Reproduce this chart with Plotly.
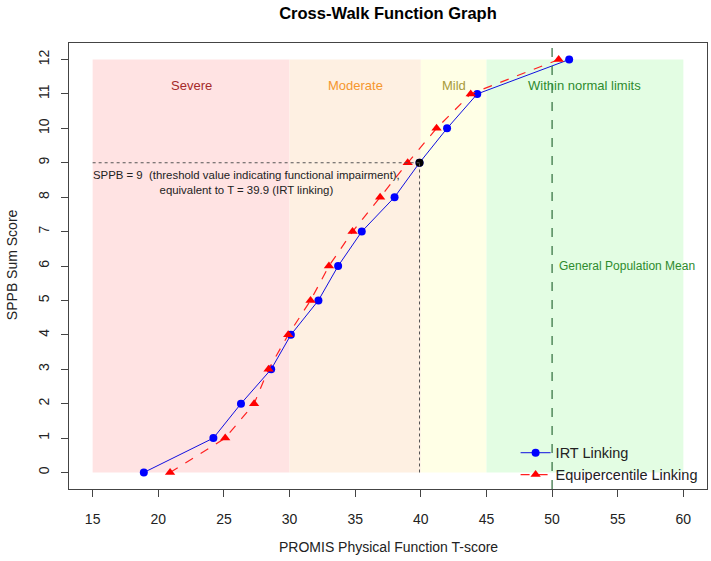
import plotly.graph_objects as go

# ---- data ----
sppb = [0, 1, 2, 3, 4, 5, 6, 7, 8, 9, 10, 11, 12]
irt_t = [18.9, 24.2, 26.3, 28.6, 30.1, 32.2, 33.7, 35.5, 38.0, 39.9, 42.0, 44.3, 51.3]
equi_t = [20.9, 25.1, 27.3, 28.4, 29.9, 31.6, 33.0, 34.8, 36.9, 39.0, 41.2, 43.8, 50.5]

zone_names = ["Severe", "Moderate", "Mild", "Within normal limits"]
zone_lo = [15, 30, 40, 45]
zone_hi = [30, 40, 45, 60]
zone_fill = ["#FFE3E3", "#FEF0E2", "#FFFFE6", "#E3FDE3"]
zone_text_color = ["#A52A2A", "#F5962E", "#A89A3A", "#2E8B2E"]

threshold_sppb = 9
threshold_t = 39.9
pop_mean = 50

x_ticks = [15, 20, 25, 30, 35, 40, 45, 50, 55, 60]
y_ticks = list(range(0, 13))

FONT = "Liberation Sans, Arial, sans-serif"

fig = go.Figure()

shapes = []
for lo, hi, col in zip(zone_lo, zone_hi, zone_fill):
    shapes.append(dict(type="rect", xref="x", yref="y", x0=lo, x1=hi, y0=0, y1=12,
                       fillcolor=col, line=dict(width=0), layer="below"))
# horizontal dotted threshold line
shapes.append(dict(type="line", xref="x", yref="y", x0=15, x1=threshold_t,
                   y0=threshold_sppb, y1=threshold_sppb,
                   line=dict(color="#555555", width=1, dash="dot")))
# vertical dotted threshold line
shapes.append(dict(type="line", xref="x", yref="y", x0=threshold_t, x1=threshold_t,
                   y0=0, y1=threshold_sppb,
                   line=dict(color="#555555", width=1, dash="dot")))
# population mean line
shapes.append(dict(type="line", xref="x", yref="paper", x0=pop_mean, x1=pop_mean,
                   y0=0, y1=1, line=dict(color="#2E6B3A", width=1.2, dash="dash")))

fig.add_trace(go.Scatter(
    x=irt_t, y=sppb, mode="lines+markers", name="IRT Linking",
    line=dict(color="#1010E0", width=1),
    marker=dict(color="#0000FF", size=8, symbol="circle")))
fig.add_trace(go.Scatter(
    x=equi_t, y=sppb, mode="lines+markers", name="Equipercentile Linking",
    line=dict(color="#FF2020", width=1.2, dash="dash"),
    marker=dict(color="#FF0000", size=9, symbol="triangle-up")))
fig.add_trace(go.Scatter(
    x=[threshold_t], y=[threshold_sppb], mode="markers", showlegend=False,
    marker=dict(color="black", size=8)))

annotations = []
for name, lo, hi, tc in zip(zone_names, zone_lo, zone_hi, zone_text_color):
    annotations.append(dict(x=(lo + hi) / 2, y=11.25, xref="x", yref="y", text=name,
                            showarrow=False, font=dict(family=FONT, size=13, color=tc)))
annotations.append(dict(x=50.4, y=6.0, xref="x", yref="y", text="General Population Mean",
                        xanchor="left", showarrow=False,
                        font=dict(family=FONT, size=12, color="#2E8B2E")))
annotations.append(dict(x=26.7, y=8.44, xref="x", yref="y",
                        text="SPPB = 9  (threshold value indicating functional impairment),<br>equivalent to T = 39.9 (IRT linking)",
                        showarrow=False, align="center",
                        font=dict(family=FONT, size=11.4, color="#222222")))
annotations.append(dict(x=0.5, y=-0.13, xref="paper", yref="paper",
                        text="PROMIS Physical Function T-score", showarrow=False,
                        yanchor="middle", font=dict(family=FONT, size=14, color="#222222")))
annotations.append(dict(x=-0.0893, y=0.502, xref="paper", yref="paper",
                        text="SPPB Sum Score", showarrow=False, textangle=-90,
                        xanchor="center", yanchor="middle",
                        font=dict(family=FONT, size=14, color="#222222")))

fig.update_layout(
    width=711, height=561,
    margin=dict(l=69, r=4, t=43, b=72),
    paper_bgcolor="white", plot_bgcolor="white",
    title=dict(text="<b>Cross-Walk Function Graph</b>", x=0.5, xanchor="center",
               xref="paper", y=1 - 13 / 561, yanchor="middle", yref="container",
               font=dict(family=FONT, size=16.5, color="black")),
    shapes=shapes, annotations=annotations,
    showlegend=True,
    legend=dict(x=0.70, y=-0.004, xanchor="left", yanchor="bottom",
                bgcolor="rgba(0,0,0,0)", borderwidth=0,
                font=dict(family=FONT, size=14.5, color="#222222")),
    xaxis=dict(range=[13.2, 61.8], tickvals=x_ticks, ticks="outside", ticklen=7,
               tickcolor="#444", showgrid=False, zeroline=False, showline=True,
               linecolor="#444", linewidth=1, mirror=True, ticklabelstandoff=10,
               tickfont=dict(family=FONT, size=14, color="#222222")),
    yaxis=dict(range=[-0.48, 12.48], tickvals=y_ticks, ticks="outside", ticklen=7,
               tickcolor="#444", tickangle=-90, showgrid=False, zeroline=False,
               showline=True, linecolor="#444", linewidth=1, mirror=True,
               ticklabelstandoff=6,
               tickfont=dict(family=FONT, size=14, color="#222222")),
)

fig.write_html("out.html")
